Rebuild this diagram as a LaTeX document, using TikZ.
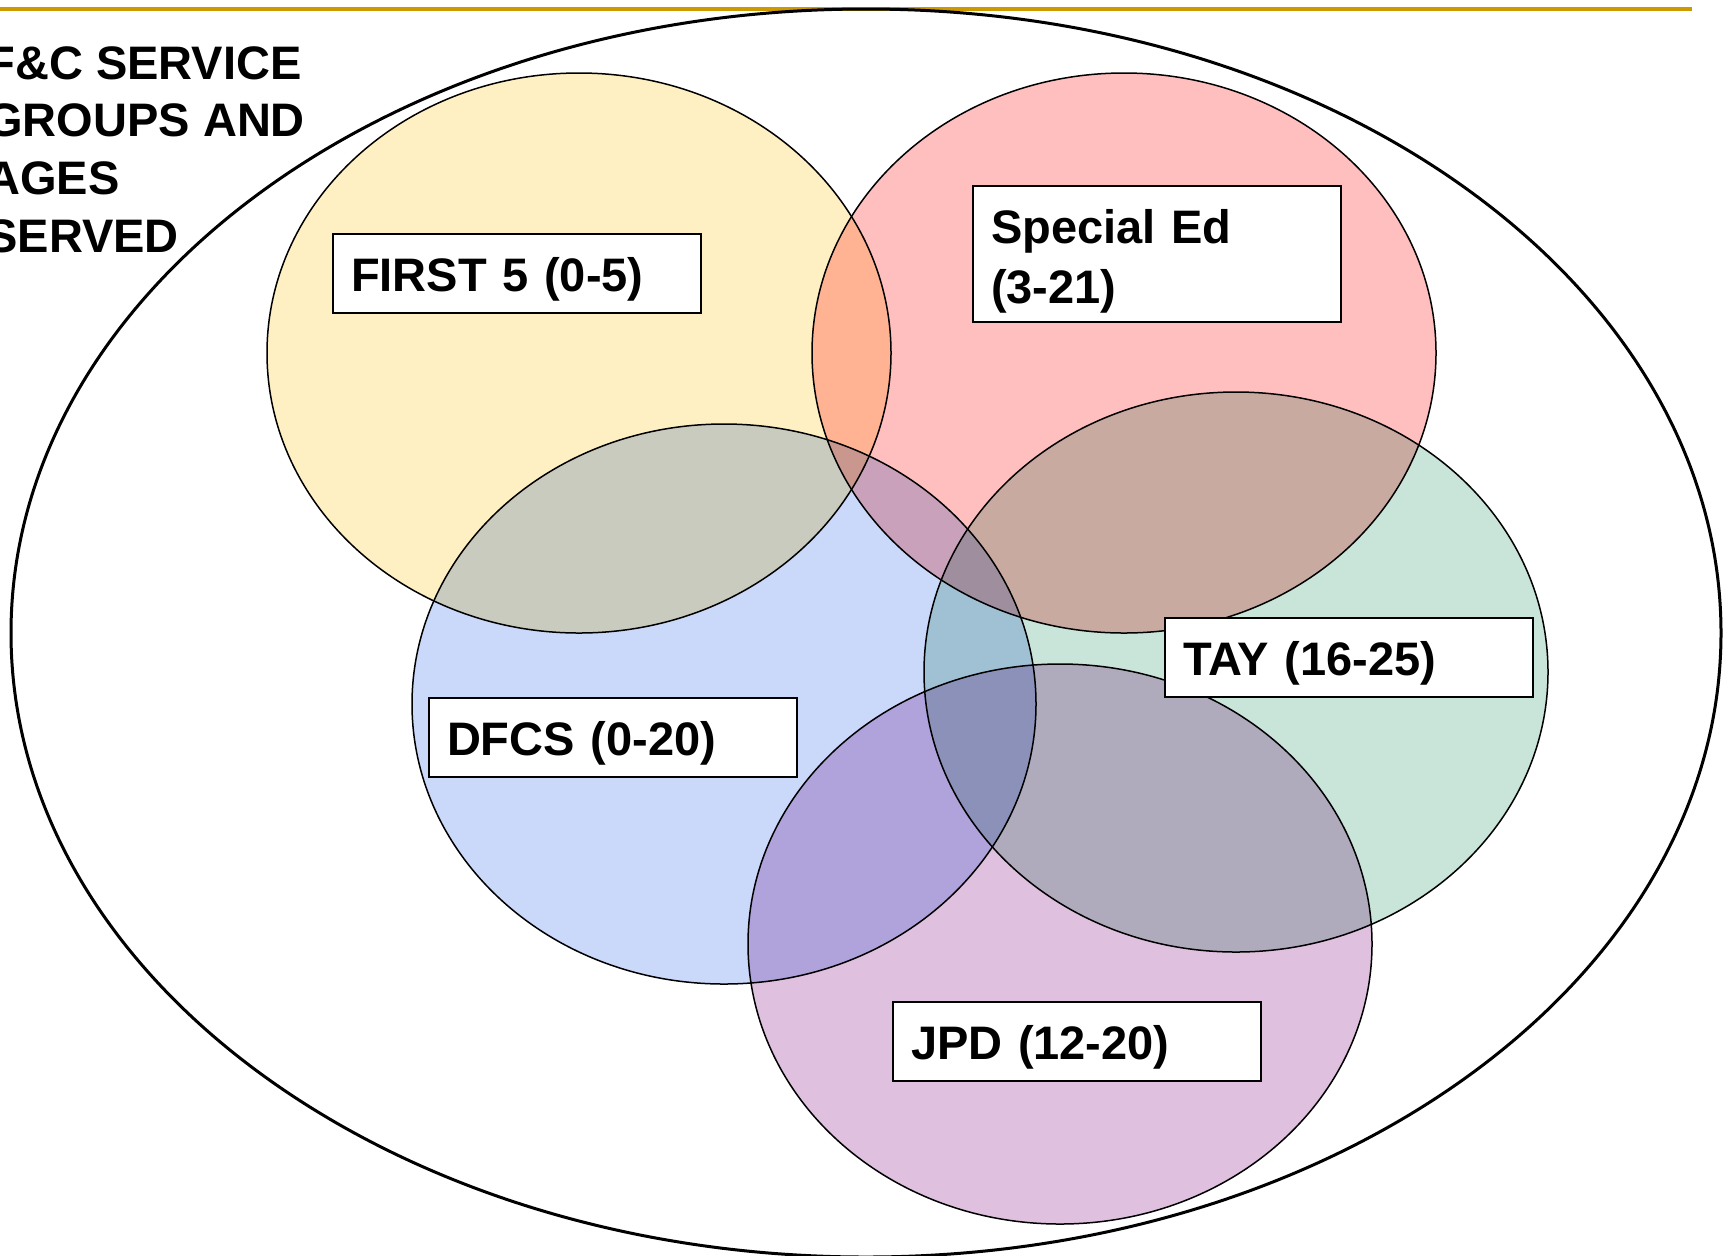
\documentclass[tikz,border=0pt]{standalone}
\usepackage{fontspec}
\setmainfont{Liberation Sans}
\usetikzlibrary{shapes.geometric}
\definecolor{goldrule}{RGB}{204,153,0}
\definecolor{firstfill}{RGB}{255,240,195}
\definecolor{spedfill}{RGB}{255,191,191}
\definecolor{dfcsfill}{RGB}{202,216,250}
\definecolor{tayfill}{RGB}{201,228,216}
\definecolor{jpdfill}{RGB}{223,192,223}

\begin{document}
\begin{tikzpicture}[x=0.5pt, y=-0.5pt,
  agegroup/.style = {ellipse, draw, line width=0.75pt, blend mode=multiply,
                     inner sep=0pt, minimum width=312pt, minimum height=280pt},
  agelabel/.style = {draw, fill=white, line width=1pt, anchor=north west,
                     align=left, text width=166pt, inner xsep=9pt, inner ysep=11pt,
                     text height=17.5pt, text depth=0pt,
                     font=\fontsize{23.5}{30}\selectfont\bfseries}]
		\useasboundingbox (0,0) rectangle (1723,1255);
		\tikzset{heading/.style={anchor=north west, inner sep=0pt, align=left,
		         font=\fontsize{23.5}{28.8}\selectfont\bfseries}}
		% rule along the top
		\coordinate (rule west) at (0,9);
		\coordinate (rule east) at (1692,9);
		\draw[goldrule, line width=2pt] (rule west) -- (rule east);
		% all services
		\node[ellipse, draw, line width=1.5pt, inner sep=0pt,
		      minimum width=855pt, minimum height=624pt] (services) at (866,633) {};
		\node[heading] (title) at (-14,46) {F\&C SERVICE\\GROUPS AND\\AGES\\SERVED};
		% the five groups
		\node[agegroup, fill=firstfill] (first5) at (579,353) {};
		\node[agegroup, fill=spedfill]  (sped)   at (1124,353) {};
		\node[agegroup, fill=dfcsfill]  (dfcs)   at (724,704) {};
		\node[agegroup, fill=tayfill]   (tay)    at (1236,672) {};
		\node[agegroup, fill=jpdfill]   (jpd)    at (1060,944) {};
		% labels
		\node[agelabel] (first5 label) at (332,233) {FIRST 5 (0-5)};
		\node[agelabel, inner ysep=0pt, text height=28.5pt, text depth=39.5pt]
		      (sped label) at (972,185) {Special Ed\\(3-21)};
		\node[agelabel] (dfcs label) at (428,697) {DFCS (0-20)};
		\node[agelabel] (tay label)  at (1164,617) {TAY (16-25)};
		\node[agelabel] (jpd label)  at (892,1001) {JPD (12-20)};
\end{tikzpicture}
\end{document}
